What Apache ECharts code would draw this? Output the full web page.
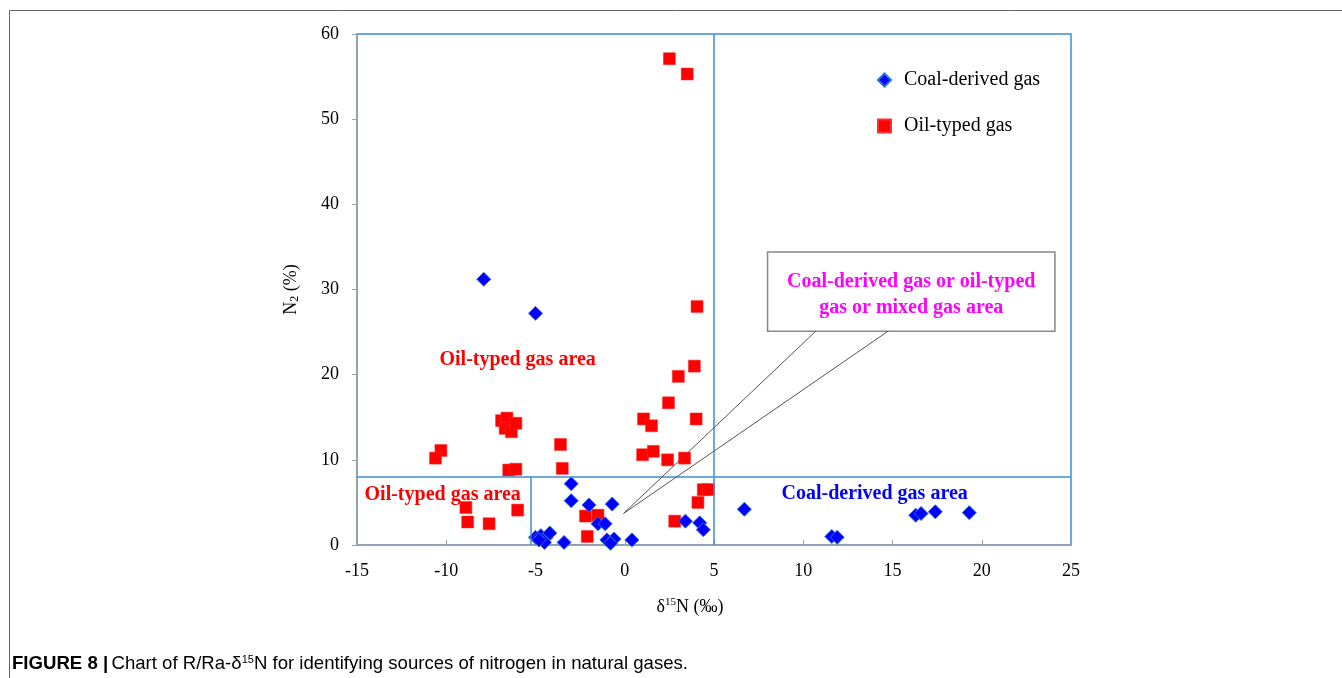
<!DOCTYPE html>
<html><head><meta charset="utf-8">
<script src="https://cdn.jsdelivr.net/npm/echarts@6/dist/echarts.min.js"></script>
<style>html,body{margin:0;padding:0;background:#fff}#c{width:1342px;height:678px}</style>
</head><body><div id="c"></div>
<script>
// ---- data ----
const xRange = [-15, 25];          // δ15N (‰)
const xStep = 5;
const yRange = [0, 60];            // N2 (%)
const yStep = 10;

const coalDerived = [
  [-7.9, 31.2], [-5.0, 27.2], [-3.0, 7.2], [-3.0, 5.2], [-2.0, 4.7], [-0.7, 4.8],
  [-1.5, 2.5], [-1.1, 2.5], [-5.0, 0.9], [-4.7, 1.1], [-4.4, 0.9], [-4.2, 1.4],
  [-4.5, 0.3], [-4.8, 0.6], [-3.4, 0.3], [-1.0, 0.6], [-0.6, 0.7], [-0.8, 0.2],
  [0.4, 0.6], [3.4, 2.8], [4.2, 2.6], [4.4, 1.8], [6.7, 4.2], [11.6, 1.0],
  [11.9, 0.9], [16.3, 3.5], [16.6, 3.7], [17.4, 3.9], [19.3, 3.8]
];
const oilTyped = [
  [2.5, 57.1], [3.5, 55.3], [4.05, 28.0], [3.9, 21.0], [3.0, 19.8], [2.45, 16.7],
  [1.05, 14.8], [1.5, 14.0], [4.0, 14.8], [1.0, 10.6], [1.6, 11.0], [2.4, 10.0],
  [3.35, 10.2], [4.4, 6.5], [4.7, 6.5], [4.1, 5.0], [2.8, 2.8], [-3.6, 11.8],
  [-3.5, 9.0], [-2.2, 3.4], [-1.5, 3.5], [-2.1, 1.0], [-6.9, 14.6], [-6.6, 14.9],
  [-6.7, 13.7], [-6.35, 13.3], [-6.1, 14.3], [-10.3, 11.1], [-10.6, 10.2],
  [-6.5, 8.8], [-6.1, 8.9], [-8.9, 4.4], [-8.8, 2.7], [-7.6, 2.5], [-6.0, 4.1]
];
const seriesNames = ['Coal-derived gas', 'Oil-typed gas'];

// boundaries of the discrimination areas
const n2Boundary = 8;
const d15NBoundary = 5;
const d15NLowerBoundary = -5.25;

// annotation (data coordinates)
const calloutBox = [[8, 34.4], [24.1, 25.1]];
const calloutStarts = [[10.7, 25.1], [14.75, 25.1]];
const calloutTarget = [-0.07, 3.7];
const calloutText = 'Coal-derived gas or oil-typed\ngas or mixed gas area';
const areaLabels = [
  {text: 'Oil-typed gas area', at: [-6.0, 21.8], kind: 'oil'},
  {text: 'Oil-typed gas area', at: [-10.2, 5.9], kind: 'oil'},
  {text: 'Coal-derived gas area', at: [14.0, 5.95], kind: 'coal'}
];

// ---- styles ----
const SERIF = "'Liberation Serif','Times New Roman',serif";
const SANS = "'Liberation Sans Narrow','Arial Narrow','Liberation Sans',sans-serif";
const BLUE_LINE = '#3b8ed8';
const AXIS_GRAY = '#a0a0a0';

const chart = echarts.init(document.getElementById('c'), null, {renderer: 'canvas'});

const option = {
  animation: false,
  backgroundColor: '#fff',
  grid: {left: 357, right: 271, top: 34, bottom: 133, show: true,
         borderColor: BLUE_LINE, borderWidth: 1.5, backgroundColor: 'transparent'},
  xAxis: {
    type: 'value', min: xRange[0], max: xRange[1], interval: xStep,
    axisLine: {show: true, onZero: false, lineStyle: {color: AXIS_GRAY, width: 1.5}},
    axisTick: {show: true, inside: true, length: 5, lineStyle: {color: AXIS_GRAY}},
    splitLine: {show: false},
    axisLabel: {color: '#000', fontFamily: SERIF, fontSize: 18, margin: 17},
    name: '{t|δ}{sup|15}{t|N (‰)}', nameLocation: 'middle', nameGap: 52,
    nameTextStyle: {padding: [0, 48, 0, 0], rich: {
      t: {fontFamily: SERIF, fontSize: 18, color: '#000'},
      sup: {fontFamily: SERIF, fontSize: 11, color: '#000', padding: [0, 0, 10, 0]}
    }}
  },
  yAxis: {
    type: 'value', min: yRange[0], max: yRange[1], interval: yStep,
    axisLine: {show: true, onZero: false, lineStyle: {color: AXIS_GRAY, width: 1.5}},
    axisTick: {show: true, inside: false, length: 5, lineStyle: {color: AXIS_GRAY}},
    splitLine: {show: false},
    axisLabel: {color: '#000', fontFamily: SERIF, fontSize: 18, margin: 18},
    name: '{t|N}{sub|2}{t| (%)}', nameLocation: 'middle', nameGap: 56, nameRotate: 90,
    nameTextStyle: {rich: {
      t: {fontFamily: SERIF, fontSize: 18, color: '#000'},
      sub: {fontFamily: SERIF, fontSize: 12, color: '#000', padding: [8, 0, 0, 0]}
    }}
  },
  legend: {
    data: seriesNames, orient: 'vertical', left: 872, top: 65, itemGap: 26,
    itemWidth: 13, itemHeight: 13,
    textStyle: {fontFamily: SERIF, fontSize: 20, color: '#000', padding: [0, 0, 0, 8]}
  },
  series: [
    {
      name: 'ref', type: 'line', data: [], silent: true, z: 1,
      markLine: {
        silent: true, symbol: ['none', 'none'], label: {show: false},
        lineStyle: {color: BLUE_LINE, width: 1.5, type: 'solid', opacity: 1},
        emphasis: {disabled: true},
        data: [
          [{coord: [xRange[0], n2Boundary]}, {coord: [xRange[1], n2Boundary]}],
          [{coord: [d15NBoundary, yRange[0]]}, {coord: [d15NBoundary, yRange[1]]}],
          [{coord: [d15NLowerBoundary, yRange[0]]}, {coord: [d15NLowerBoundary, n2Boundary]}],
          [{coord: calloutStarts[0], lineStyle: {color: '#555', width: 1}}, {coord: calloutTarget}],
          [{coord: calloutStarts[1], lineStyle: {color: '#555', width: 1}}, {coord: calloutTarget}]
        ]
      },
      markArea: {
        silent: true,
        itemStyle: {color: '#fff', borderColor: '#888', borderWidth: 1.5, opacity: 1},
        label: {show: true, position: 'inside', formatter: calloutText, color: '#ff00ff',
                fontFamily: SERIF, fontWeight: 'bold', fontSize: 20, lineHeight: 26,
                align: 'center', offset: [0, 3]},
        data: [[{coord: calloutBox[0]}, {coord: calloutBox[1]}]]
      },
      markPoint: {
        silent: true, symbol: 'circle', symbolSize: 1,
        itemStyle: {color: 'rgba(0,0,0,0)'},
        data: areaLabels.map(a => ({
          coord: a.at,
          label: {show: true, position: 'inside', formatter: a.text,
                  color: a.kind === 'oil' ? '#ff0000' : '#0000ff',
                  fontFamily: SERIF, fontWeight: 'bold', fontSize: 20}
        }))
      }
    },
    {
      name: seriesNames[1], type: 'scatter', data: oilTyped, symbol: 'rect', symbolSize: 12, z: 3,
      itemStyle: {color: '#ff0000', borderColor: '#ff3030', borderWidth: 0.5, opacity: 1}
    },
    {
      name: seriesNames[0], type: 'scatter', data: coalDerived, symbol: 'diamond', symbolSize: 14, z: 4,
      itemStyle: {color: '#0000ff', borderColor: '#2a6fd8', borderWidth: 1, opacity: 1}
    }
  ],
  graphic: [
    {type: 'polyline', shape: {points: [[9.5, 690], [9.5, 10.5], [1350, 10.5]]},
     style: {stroke: '#666', fill: null, lineWidth: 1}, silent: true},
    {type: 'text', left: 12, top: 654, silent: true,
     style: {
       text: '{b|FIGURE 8 |} {t|Chart of R/Ra-δ}{s|15}{t|N for identifying sources of nitrogen in natural gases.}',
       rich: {
         b: {fontFamily: SANS, fontWeight: 'bold', fontSize: 18.6, fill: '#000'},
         t: {fontFamily: SANS, fontSize: 18.6, fill: '#000'},
         s: {fontFamily: SANS, fontSize: 11, fill: '#000', padding: [0, 0, 9, 0]}
       }
     }}
  ]
};
chart.setOption(option);
</script>
</body></html>
